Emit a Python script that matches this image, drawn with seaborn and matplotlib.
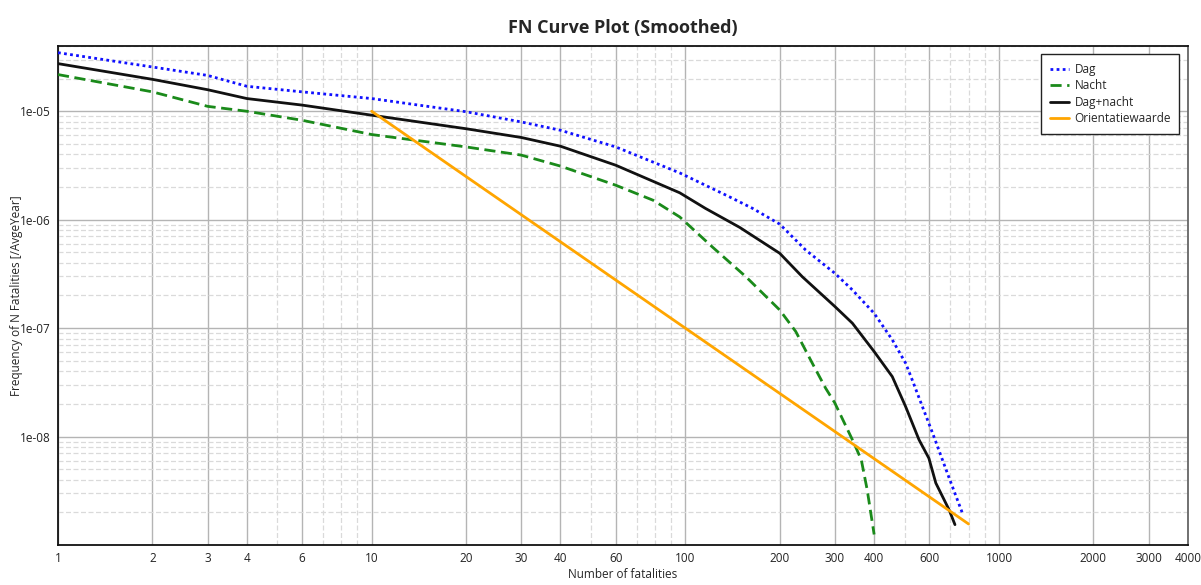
import numpy as np
import pandas as pd
import matplotlib
matplotlib.use("Agg")
import matplotlib.pyplot as plt
import seaborn as sns
from matplotlib.ticker import FixedLocator, FixedFormatter, NullFormatter

# ---- data ----
dag_n = [1, 2, 3, 4, 6, 10, 20, 30, 40, 60, 96, 138, 164, 200, 242, 300, 341, 400,
         457, 504, 529, 570, 614, 697, 764]
dag_f = [3.47e-5, 2.56e-5, 2.14e-5, 1.70e-5, 1.51e-5, 1.31e-5, 9.9e-6, 7.97e-6, 6.68e-6,
         4.69e-6, 2.7e-6, 1.63e-6, 1.27e-6, 9.1e-7, 5.25e-7, 3.2e-7, 2.25e-7, 1.37e-7,
         7.8e-8, 4.75e-8, 3.33e-8, 1.89e-8, 1.08e-8, 4.0e-9, 1.98e-9]

nacht_n = [1, 2, 3, 4, 6, 10, 20, 30, 40, 60, 79, 96, 122, 156, 200, 225, 254, 280,
           300, 345, 364, 380, 400]
nacht_f = [2.18e-5, 1.51e-5, 1.11e-5, 1.0e-5, 8.26e-6, 6.1e-6, 4.69e-6, 3.94e-6, 3.12e-6,
           2.08e-6, 1.51e-6, 1.06e-6, 5.6e-7, 2.98e-7, 1.47e-7, 9.3e-8, 4.75e-8, 2.8e-8,
           2.03e-8, 8.7e-9, 6.1e-9, 3.24e-9, 1.25e-9]

totaal_n = [1, 2, 3, 4, 6, 10, 20, 30, 40, 60, 96, 116, 149, 200, 236, 300, 341, 400,
            457, 504, 556, 598, 629, 693, 724]
totaal_f = [2.75e-5, 1.97e-5, 1.58e-5, 1.31e-5, 1.14e-5, 9.2e-6, 6.9e-6, 5.73e-6, 4.76e-6,
            3.18e-6, 1.77e-6, 1.27e-6, 8.5e-7, 4.9e-7, 2.98e-7, 1.58e-7, 1.11e-7, 6.08e-8,
            3.57e-8, 1.89e-8, 9.35e-9, 6.3e-9, 3.73e-9, 2.12e-9, 1.54e-9]

orient_n = [10, 800]
orient_f = [1e-5, 1.5625e-9]

series_names = ["Dag", "Nacht", "Dag+nacht", "Orientatiewaarde"]

x_major = [1, 2, 3, 4, 6, 10, 20, 30, 40, 60, 100, 200, 300, 400, 600, 1000, 2000, 3000, 4000]
x_labels = ["1", "2", "3", "4", "6", "10", "20", "30", "40", "60", "100", "200", "300",
            "400", "600", "1000", "2000", "3000", "4000"]
x_minor = [5, 7, 8, 9, 50, 70, 80, 90, 500, 700, 800, 900]
y_major = [1e-8, 1e-7, 1e-6, 1e-5]
y_labels = ["1e-08", "1e-07", "1e-06", "1e-05"]

# ---- figure ----
sns.set_style("white")
plt.rcParams["font.family"] = ["Open Sans", "DejaVu Sans"]

fig = plt.figure(figsize=(12.01, 5.85), dpi=100)
ax = fig.add_axes([0.0483, 0.0684, 0.9407, 0.853])

df = pd.concat([
    pd.DataFrame({"N": dag_n, "F": dag_f, "serie": series_names[0]}),
    pd.DataFrame({"N": nacht_n, "F": nacht_f, "serie": series_names[1]}),
    pd.DataFrame({"N": totaal_n, "F": totaal_f, "serie": series_names[2]}),
    pd.DataFrame({"N": orient_n, "F": orient_f, "serie": series_names[3]}),
])

styles = {
    "Dag": dict(color="#1010ff", linestyle=(0, (1, 1.2)), linewidth=2.0),
    "Nacht": dict(color="#1a8a1a", linestyle=(0, (4, 2)), linewidth=2.0),
    "Dag+nacht": dict(color="#111111", linestyle="-", linewidth=2.0),
    "Orientatiewaarde": dict(color="#ffa500", linestyle="-", linewidth=2.0),
}
for name in series_names:
    sub = df[df["serie"] == name]
    sns.lineplot(data=sub, x="N", y="F", ax=ax, label=name, sort=False,
                 estimator=None, zorder=3, **styles[name])

ax.set_xscale("log")
ax.set_yscale("log")
ax.set_xlim(1, 4000)
ax.set_ylim(1e-9, 4e-5)

ax.xaxis.set_major_locator(FixedLocator(x_major))
ax.xaxis.set_major_formatter(FixedFormatter(x_labels))
ax.xaxis.set_minor_locator(FixedLocator(x_minor))
ax.xaxis.set_minor_formatter(NullFormatter())

y_minor = [m * 10.0 ** e for e in range(-9, -4) for m in range(2, 10)]
ax.yaxis.set_major_locator(FixedLocator(y_major))
ax.yaxis.set_major_formatter(FixedFormatter(y_labels))
ax.yaxis.set_minor_locator(FixedLocator(y_minor))
ax.yaxis.set_minor_formatter(NullFormatter())

ax.grid(True, which="major", color="#b4b4b4", linestyle="-", linewidth=1.0, zorder=0)
ax.grid(True, which="minor", color="#dadada", linestyle=(0, (4, 2)), linewidth=0.9, zorder=0)
ax.set_axisbelow(True)

ax.tick_params(axis="both", which="both", length=0, labelsize=8.5, colors="#222222", pad=5)

for side in ["left", "bottom", "top"]:
    ax.spines[side].set_color("#111111")
    ax.spines[side].set_linewidth(1.3)
ax.spines["right"].set_color("#666666")
ax.spines["right"].set_linewidth(1.3)

ax.set_xlabel("Number of fatalities", fontsize=8.5, labelpad=2)
ax.set_ylabel("Frequency of N Fatalities [/AvgeYear]", fontsize=8.5)
ax.yaxis.set_label_coords(-0.031, 0.5)
ax.set_title("FN Curve Plot (Smoothed)", fontsize=13, fontweight="bold", pad=9)

leg = ax.legend(loc="upper right", bbox_to_anchor=(0.9925, 0.983), fontsize=8.5,
                frameon=True, fancybox=False, edgecolor="#222222", framealpha=1,
                handlelength=1.6, handletextpad=0.5, labelspacing=0.3,
                borderpad=0.7, borderaxespad=0.0)
leg.get_frame().set_linewidth(1.0)

fig.savefig("out.png", dpi=100)
